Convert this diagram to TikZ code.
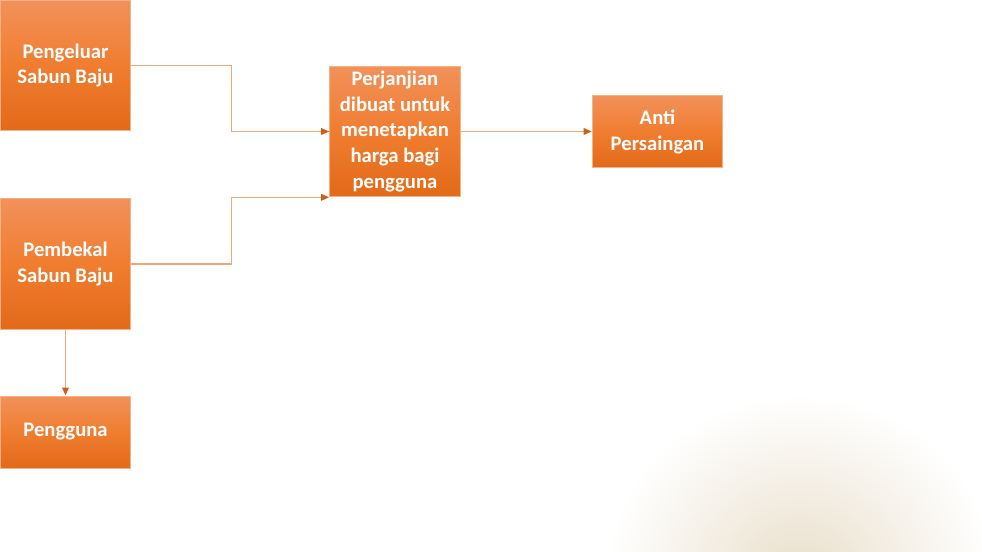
\documentclass[tikz,border=0pt]{standalone}
\usepackage{fontspec}
\setmainfont{Carlito}
\usepackage{tikz}
\usetikzlibrary{arrows.meta}
\definecolor{boxtop}{RGB}{242,145,90}
\definecolor{boxmid}{RGB}{240,125,48}
\definecolor{boxbot}{RGB}{226,106,24}
\definecolor{boxline}{RGB}{246,178,130}
\definecolor{linkline}{RGB}{240,168,118}
\definecolor{tipcol}{RGB}{205,95,25}
\definecolor{glow}{RGB}{233,223,203}
\tikzstyle{box}  = [draw=boxline, line width=0.75pt, top color=boxtop, bottom color=boxbot, middle color=boxmid,
                    text=white, font=\bfseries\fontsize{15.5}{19.3}\selectfont, align=center, inner sep=0pt, minimum width=98pt]
\tikzstyle{tall} = [box, minimum height=98pt]
\tikzstyle{flat} = [box, minimum height=54pt]
\tikzstyle{link} = [draw=linkline, line width=0.9pt, -{Triangle[length=6pt,width=5pt,color=tipcol]}]

\begin{document}
\begin{tikzpicture}[x=0.75pt,y=-0.75pt]
  \useasboundingbox (0,0) rectangle (982,552);
  %soft glow in the corner
  \begin{scope}
    \clip (0,0) rectangle (982,552);
    \shade[inner color=glow, outer color=white] (800,575) ellipse [x radius=145pt, y radius=135pt];
  \end{scope}

  %boxes on the left
  \node[tall] (peng) at (65.5,65.5) {Pengeluar\\Sabun Baju};
  \node[tall] (pemb) at (65.5,264) {Pembekal\\Sabun Baju};
  \node[flat] (user) at (65.5,432) {Pengguna};

  %boxes in the middle and right
  \node[tall] (deal) at (395,131.5) {Perjanjian\\dibuat untuk\\menetapkan\\harga bagi\\pengguna};
  \node[flat] (anti) at (657.5,132) {Anti\\Persaingan};

  \draw[link] (peng.east) -- ++(100,0) |- (deal.west);
  \draw[link] (pemb.east) -- ++(100,0) |- (deal.south west);
  \draw[link] (deal.east) -- (anti.west |- deal.east);
  \draw[link] (pemb) -- (user);
\end{tikzpicture}
\end{document}
